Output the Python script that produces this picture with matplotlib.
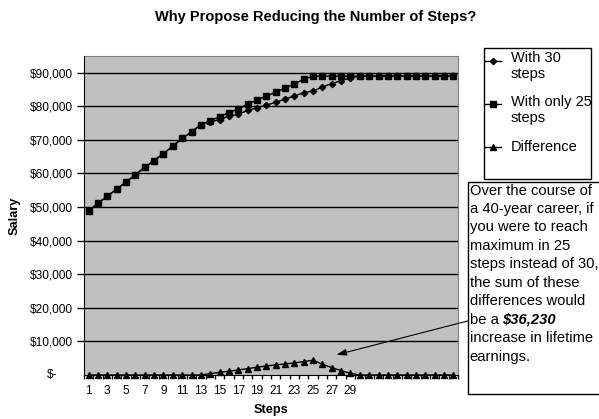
import matplotlib
matplotlib.use('Agg')
import matplotlib.pyplot as plt
from matplotlib.lines import Line2D
from matplotlib.patches import Rectangle
from matplotlib.text import Annotation
import numpy as np

plt.rcParams['font.family'] = ['Liberation Sans', 'DejaVu Sans']

# data
steps = list(range(1, 41))
with_25 = [48900, 51100, 53200, 55300, 57400, 59600, 61800, 63800, 65900, 68100,
           70400, 72300, 74500, 75700, 76800, 78100, 79100, 80600, 81800, 83000,
           84100, 85400, 86600, 88000] + [88900] * 16
difference = [0] * 13 + [400, 800, 1100, 1500, 1900, 2300, 2700, 3000, 3300, 3600,
                         4000, 4400, 3200, 2200, 1300, 500] + [0] * 11
with_30 = [a - d for a, d in zip(with_25, difference)]
y_ticks = [10000, 20000, 30000, 40000, 50000, 60000, 70000, 80000, 90000]
x_labels = list(range(1, 30, 2))

note_lines = ['Over the course of', 'a 40-year career, if', 'you were to reach',
              'maximum in 25', 'steps instead of 30,', 'the sum of these',
              'differences would', 'be a ', 'increase in lifetime', 'earnings.']
note_amount = '$36,230'

W, H = 599, 419


def fx(x):
    return x / W


def fy(y):
    return 1 - y / H


fig = plt.figure(figsize=(W / 100, H / 100), dpi=100)
ax = fig.add_axes([fx(84), fy(375), (458 - 84) / W, (375 - 55.7) / H])
ax.set_facecolor('#c0c0c0')

ax.plot(steps, with_30, color='black', lw=1, marker='D', ms=3.2, zorder=3)
ax.plot(steps, with_25, color='black', lw=1, marker='s', ms=4.3, zorder=4)
ax.plot(steps, difference, color='black', lw=1, marker='^', ms=4.6, zorder=5,
        clip_on=False)

ax.set_xlim(0.5, 40.5)
ax.set_ylim(0, 95000)

# gridlines
for v in y_ticks:
    ax.axhline(v, color='black', lw=1, zorder=1)

ax.set_yticks(y_ticks)
ax.set_yticklabels(['$' + format(v, ',') for v in y_ticks])
ax.tick_params(axis='y', length=5, width=1, labelsize=8.6, pad=3.2, direction='out')
ax.annotate('$-', xy=(0, 0), xycoords=('axes fraction', 'data'), xytext=(-19.5, 0),
            textcoords='offset points', ha='right', va='center', fontsize=8.6)

ax.set_xticks(np.arange(0.5, 41, 1))
ax.set_xticklabels([])
ax.set_xticks(x_labels, minor=True)
ax.set_xticklabels([str(v) for v in x_labels], minor=True)
ax.tick_params(axis='x', which='major', length=3, width=1, direction='out')
ax.tick_params(axis='x', which='minor', length=0, labelsize=8.6, pad=7.5)

for side in ['top', 'right']:
    ax.spines[side].set_color('#808080')
for side in ['left', 'bottom']:
    ax.spines[side].set_color('black')
    ax.spines[side].set_zorder(6)

fig.text(fx(316), fy(17), 'Why Propose Reducing the Number of Steps?', ha='center',
         va='center', fontsize=10.5, fontweight='bold')
fig.text(fx(15), fy(216), 'Salary', rotation=90, ha='center', va='center',
         fontsize=9.2, fontweight='bold')
fig.text(fx(271), fy(410), 'Steps', ha='center', va='center', fontsize=9.2,
         fontweight='bold')

# legend
fig.add_artist(Rectangle((fx(484), fy(179)), (591 - 484) / W, (179 - 48) / H,
                         transform=fig.transFigure, facecolor='white',
                         edgecolor='black', lw=1))
legend_items = [('With 30\nsteps', 'D', 3.2, 61, 66), ('With only 25\nsteps', 's', 4.3, 104, 110),
                ('Difference', '^', 4.6, 147, 147)]
for label, mk, ms, hy, ty in legend_items:
    fig.add_artist(Line2D([fx(485), fx(493), fx(501)], [fy(hy)] * 3,
                          transform=fig.transFigure, color='black', lw=1,
                          marker=mk, ms=ms, markevery=[1]))
    fig.text(fx(511), fy(ty), label, ha='left', va='center', fontsize=10.5,
             linespacing=1.12)

# note box
fig.add_artist(Rectangle((fx(467.5), fy(394)), (610 - 467.5) / W, (394 - 182.5) / H,
                         transform=fig.transFigure, facecolor='white',
                         edgecolor='black', lw=1, clip_on=False))
for i, line in enumerate(note_lines):
    t = fig.text(fx(469.5), fy(190.5 + i * 18.45), line, ha='left', va='center',
                 fontsize=10.6)
    if i == 7:
        fig.add_artist(Annotation(note_amount, xy=(1, 0.5), xycoords=t, ha='left',
                                  va='center', fontsize=10.6, fontweight='bold',
                                  fontstyle='italic', annotation_clip=False,
                                  zorder=4))

ax.annotate('', xy=(27.5, 6000), xycoords='data',
            xytext=(fx(467.5), fy(321)), textcoords='figure fraction',
            arrowprops=dict(arrowstyle='-|>,head_length=0.6,head_width=0.2',
                            color='black', lw=0.8, shrinkA=0, shrinkB=0),
            annotation_clip=False)

fig.savefig('out.png', dpi=100)
